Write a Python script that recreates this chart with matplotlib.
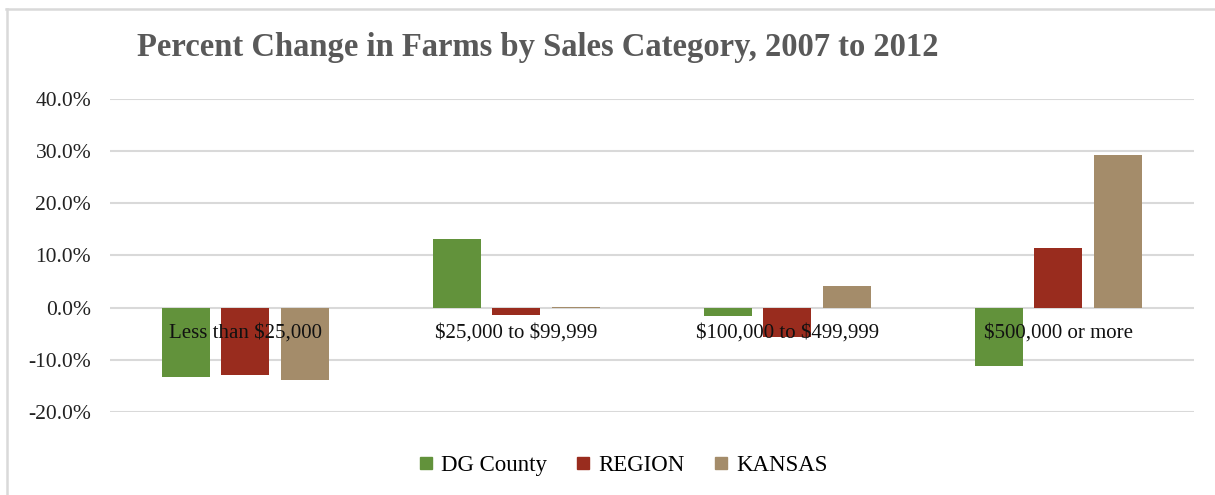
import matplotlib
matplotlib.use("Agg")
import matplotlib.pyplot as plt
import numpy as np
from matplotlib.lines import Line2D
from matplotlib.ticker import FuncFormatter

plt.rcParams["text.parse_math"] = False

categories = ["Less than $25,000", "$25,000 to $99,999",
              "$100,000 to $499,999", "$500,000 or more"]
series_names = ["DG County", "REGION", "KANSAS"]
dg_county = [-13.2, 13.2, -1.6, -11.1]
region = [-13.0, -1.4, -5.6, 11.4]
kansas = [-13.8, 0.1, 4.1, 29.2]
y_ticks = [-20, -10, 0, 10, 20, 30, 40]

colors = ["#62923b", "#992c1e", "#a48c6a"]
serif = ["Liberation Serif", "DejaVu Serif"]

fig = plt.figure(figsize=(12.15, 4.95), dpi=100)
ax = fig.add_axes([0.0905, 0.1677, 0.8922, 0.6323])

x = np.arange(len(categories))
width = 0.177
offset = 0.221
for i, (vals, name) in enumerate(zip([dg_county, region, kansas], series_names)):
    ax.bar(x + (i - 1) * offset, vals, width, color=colors[i], label=name, zorder=3)

ax.set_xlim(-0.5, len(categories) - 0.5)
ax.set_ylim(-20, 40)
ax.set_yticks(y_ticks)
ax.yaxis.set_major_formatter(FuncFormatter(lambda v, p: f"{v:.1f}%"))
ax.grid(axis="y", color="#d9d9d9", linewidth=1.5, zorder=0)
ax.set_axisbelow(True)
for s in ax.spines.values():
    s.set_visible(False)

ax.set_xticks([])
ax.tick_params(axis="y", length=0, pad=13.5, labelsize=15.5, labelcolor="#222222")
for lbl in ax.get_yticklabels():
    lbl.set_fontfamily(serif)

# category labels sit just below the zero line, above the bars
for xi, cat in zip(x, categories):
    ax.annotate(cat, xy=(xi, 0), xytext=(0, -18), textcoords="offset points",
                ha="center", va="center", fontfamily=serif, fontsize=15,
                color="#111111", zorder=6, annotation_clip=False)

fig.text(0.1128, 0.905, "Percent Change in Farms by Sales Category, 2007 to 2012",
         fontfamily=serif, fontsize=23.5, fontweight="bold", color="#595959",
         ha="left", va="center")

handles = [Line2D([0], [0], marker="s", linestyle="none", markersize=8,
                  markerfacecolor=c, markeredgecolor=c) for c in colors]
fig.legend(handles, series_names, loc="center", bbox_to_anchor=(0.51, 0.0606),
           ncol=3, frameon=False, handletextpad=0.05, handlelength=1.2,
           columnspacing=1.0, prop={"family": serif, "size": 16.5})

# chart frame
fig.add_artist(Line2D([6 / 1215, 1], [1 - 9 / 495, 1 - 9 / 495],
                      transform=fig.transFigure, color="#d9d9d9", linewidth=1.8))
fig.add_artist(Line2D([7 / 1215, 7 / 1215], [0, 1 - 9 / 495],
                      transform=fig.transFigure, color="#d9d9d9", linewidth=1.8))

fig.savefig("out.png", dpi=100, facecolor="white")
